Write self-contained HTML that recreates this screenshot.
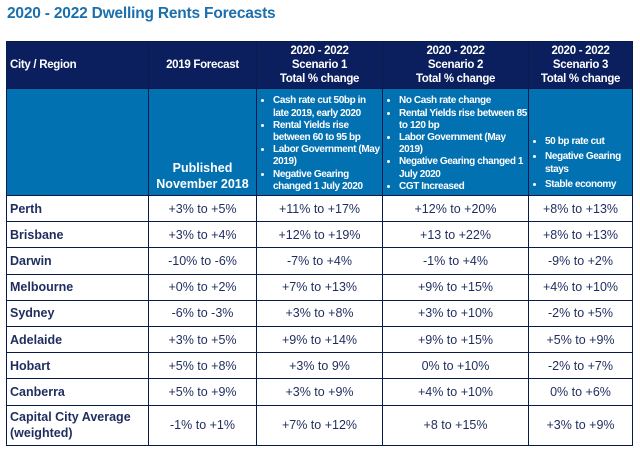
<!DOCTYPE html>
<html><head><meta charset="utf-8"><style>
body{margin:0;width:640px;height:461px;background:#fff;position:relative;overflow:hidden;font-family:"Liberation Sans",sans-serif}
#title{position:absolute;left:7px;top:5px;font-size:15.5px;font-weight:bold;color:#1b6fae;letter-spacing:-0.2px}
table{position:absolute;left:6px;top:41px;border-collapse:collapse;table-layout:fixed}
td,th{border:1.5px solid #0a1a4a;padding:0;text-align:center;color:#1f2d5e;font-size:12.5px}
.h th{background:#0b1f5e;color:#fff;font-size:11.5px;font-weight:bold;height:46px;line-height:14px;letter-spacing:-0.3px}
.b td{background:#0271b2;color:#fff;font-size:10px;font-weight:bold;height:103px;vertical-align:bottom;text-align:left;line-height:12.2px;letter-spacing:-0.4px}
ul{margin:0 0 2px 0;padding-left:16px}
li{margin:0}
tr.r td{height:25.2px}
td.c{text-align:left;font-weight:bold;padding-left:3px;font-size:12.5px;color:#1f2d5e}
</style></head><body>
<div id="title">2020 - 2022 Dwelling Rents Forecasts</div>
<table>
<colgroup><col style="width:142px"><col style="width:108px"><col style="width:126px"><col style="width:146px"><col style="width:104px"></colgroup>
<tr class="h">
<th style="text-align:left;padding-left:3px">City / Region</th>
<th>2019 Forecast</th>
<th>2020 - 2022<br>Scenario 1<br>Total % change</th>
<th>2020 - 2022<br>Scenario 2<br>Total % change</th>
<th>2020 - 2022<br>Scenario 3<br>Total % change</th>
</tr>
<tr class="b">
<td></td>
<td style="text-align:center;font-size:12.5px;line-height:16px;padding-bottom:3px;letter-spacing:0">Published<br>November 2018</td>
<td><ul><li>Cash rate cut 50bp in late 2019, early 2020</li><li>Rental Yields rise between 60 to 95 bp</li><li>Labor Government (May 2019)</li><li>Negative Gearing changed 1 July 2020</li></ul></td>
<td><ul><li>No Cash rate change</li><li>Rental Yields rise between 85 to 120 bp</li><li>Labor Government (May 2019)</li><li>Negative Gearing changed 1 July 2020</li><li>CGT Increased</li></ul></td>
<td><ul style="margin-bottom:4px"><li style="margin-bottom:3px">50 bp rate cut</li><li style="margin-bottom:3px">Negative Gearing stays</li><li>Stable economy</li></ul></td>
</tr>
<tr class="r"><td class="c">Perth</td><td>+3% to +5%</td><td>+11% to +17%</td><td>+12% to +20%</td><td>+8% to +13%</td></tr>
<tr class="r"><td class="c">Brisbane</td><td>+3% to +4%</td><td>+12% to +19%</td><td>+13 to +22%</td><td>+8% to +13%</td></tr>
<tr class="r"><td class="c">Darwin</td><td>-10% to -6%</td><td>-7% to +4%</td><td>-1% to +4%</td><td>-9% to +2%</td></tr>
<tr class="r"><td class="c">Melbourne</td><td>+0% to +2%</td><td>+7% to +13%</td><td>+9% to +15%</td><td>+4% to +10%</td></tr>
<tr class="r"><td class="c">Sydney</td><td>-6% to -3%</td><td>+3% to +8%</td><td>+3% to +10%</td><td>-2% to +5%</td></tr>
<tr class="r"><td class="c">Adelaide</td><td>+3% to +5%</td><td>+9% to +14%</td><td>+9% to +15%</td><td>+5% to +9%</td></tr>
<tr class="r"><td class="c">Hobart</td><td>+5% to +8%</td><td>+3% to 9%</td><td>0% to +10%</td><td>-2% to +7%</td></tr>
<tr class="r"><td class="c">Canberra</td><td>+5% to +9%</td><td>+3% to +9%</td><td>+4% to +10%</td><td>0% to +6%</td></tr>
<tr class="r"><td class="c" style="height:39px;line-height:16px">Capital City Average<br>(weighted)</td><td>-1% to +1%</td><td>+7% to +12%</td><td>+8 to +15%</td><td>+3% to +9%</td></tr>
</table>
</body></html>
